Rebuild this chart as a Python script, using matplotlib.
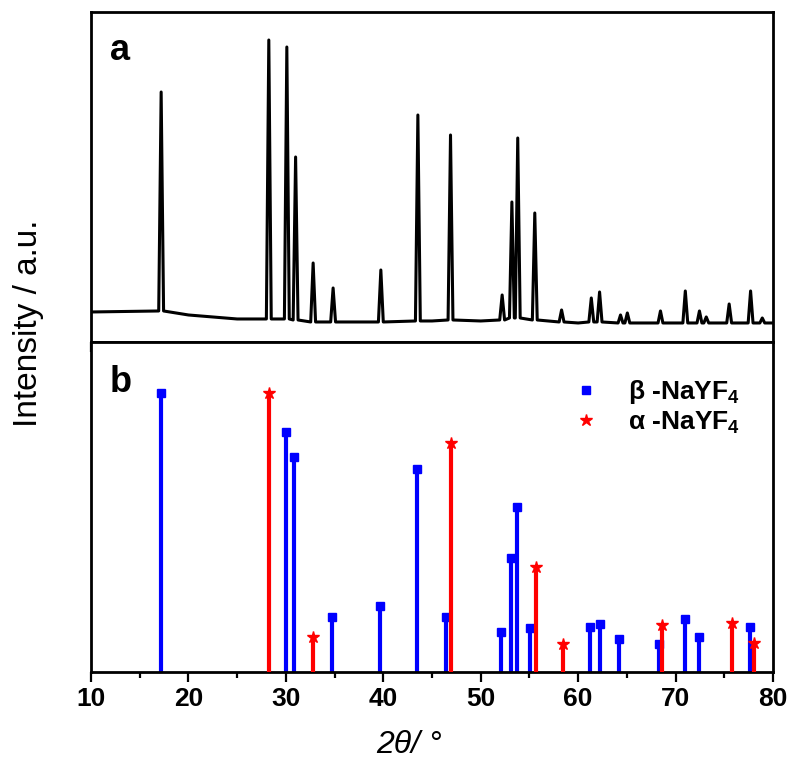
import numpy as np
import matplotlib.pyplot as plt
from matplotlib.ticker import MultipleLocator

peak_pos = [17.2, 28.25, 30.1, 31.0, 32.8, 34.85, 39.75, 43.55, 46.9, 52.2, 53.2, 53.8,
            55.55, 58.3, 61.35, 62.2, 64.35, 65.05, 68.45, 71.0, 72.45, 73.15, 75.5, 77.7, 78.9]
peak_top = [248, 300, 293, 183, 77, 52, 70, 225, 205, 45, 138, 202,
            127, 30, 42, 48, 25, 27, 29, 49, 29, 23, 36, 49, 22]
peak_foot = [29, 21, 21, 20, 18, 18, 18, 19, 20, 20, 22, 22,
             20, 18, 18, 18, 17, 17, 17, 17, 17, 17, 17, 17, 17]
bg_pos = [10, 20, 25, 36, 45, 50, 60, 70, 80]
bg_val = [28, 25, 21, 18, 19, 19, 17, 17, 17]

# (b) reference lines
beta_pos = [17.2, 30.0, 30.8, 34.75, 39.65, 43.5, 46.45, 52.05, 53.15, 53.7, 55.1,
            61.2, 62.2, 64.2, 68.3, 71.0, 72.4, 77.65]
beta_int = [279, 240, 215, 55, 66, 203, 55, 40, 114, 165, 44,
            45, 48, 33, 28, 53, 35, 45]
alpha_pos = [28.25, 32.8, 46.95, 55.7, 58.4, 68.65, 75.8, 78.1]
alpha_int = [279, 35, 229, 105, 28, 47, 49, 29]

plt.rcParams['font.family'] = ['Liberation Sans', 'DejaVu Sans']
plt.rcParams['mathtext.fontset'] = 'custom'
plt.rcParams['mathtext.rm'] = 'Liberation Sans'
plt.rcParams['mathtext.bf'] = 'Liberation Sans:bold'
plt.rcParams['mathtext.it'] = 'Liberation Sans:italic'

fig = plt.figure(figsize=(8, 7.69), dpi=100)
ax1 = fig.add_axes([0.11375, 0.5553, 0.8525, 0.4291])
ax2 = fig.add_axes([0.11375, 0.1261, 0.8525, 0.4291])

# build the trace of pattern a
half = 0.25
pts = list(zip(bg_pos, bg_val))
for p, t, f in zip(peak_pos, peak_top, peak_foot):
    pts += [(p - half, f), (p, t), (p + half, f)]
pts.sort()
x_a, y_a = np.array(pts).T
ax1.plot(x_a, y_a, color='black', lw=2.2)
ax1.set_ylim(-2, 328)

# stick patterns
ax2.vlines(beta_pos, 0, beta_int, color='#0000ff', lw=3, zorder=2)
ax2.plot(beta_pos, beta_int, 's', color='#0000ff', ms=6, ls='none', zorder=3,
         label='β -NaYF$_\\mathbf{4}$')
ax2.vlines(alpha_pos, 0, alpha_int, color='#ff0000', lw=3, zorder=4)
ax2.plot(alpha_pos, alpha_int, '*', color='#ff0000', ms=9, ls='none', zorder=5,
         label='α -NaYF$_\\mathbf{4}$')
ax2.set_ylim(0, 330)

for ax in (ax1, ax2):
    ax.set_xlim(10, 80)
    ax.xaxis.set_major_locator(MultipleLocator(10))
    ax.xaxis.set_minor_locator(MultipleLocator(5))
    ax.set_yticks([])
    for s in ax.spines.values():
        s.set_linewidth(2)
    ax.tick_params(axis='x', which='major', direction='out', length=7, width=1.6)
    ax.tick_params(axis='x', which='minor', direction='out', length=4, width=1.6)

ax1.tick_params(axis='x', labelbottom=False)
ax2.tick_params(axis='x', labelsize=19, pad=4)
for lab in ax2.get_xticklabels():
    lab.set_fontweight('bold')

ax1.text(0.028, 0.855, 'a', transform=ax1.transAxes, fontsize=26, fontweight='bold')
ax2.text(0.028, 0.848, 'b', transform=ax2.transAxes, fontsize=26, fontweight='bold')

leg = ax2.legend(loc='upper left', bbox_to_anchor=(0.672, 0.962), frameon=False,
                 handlelength=1.0, handletextpad=1.1, labelspacing=0.12,
                 prop={'weight': 'bold', 'size': 19})

fig.text(28 / 800, 1 - 323 / 769, 'Intensity / a.u.', rotation=90, ha='center', va='center',
         fontsize=24)
fig.text(409 / 800, 1 - 745 / 769, '2θ/ °', ha='center', va='center', fontsize=23,
         fontstyle='italic')

plt.savefig('out.png', dpi=100)
